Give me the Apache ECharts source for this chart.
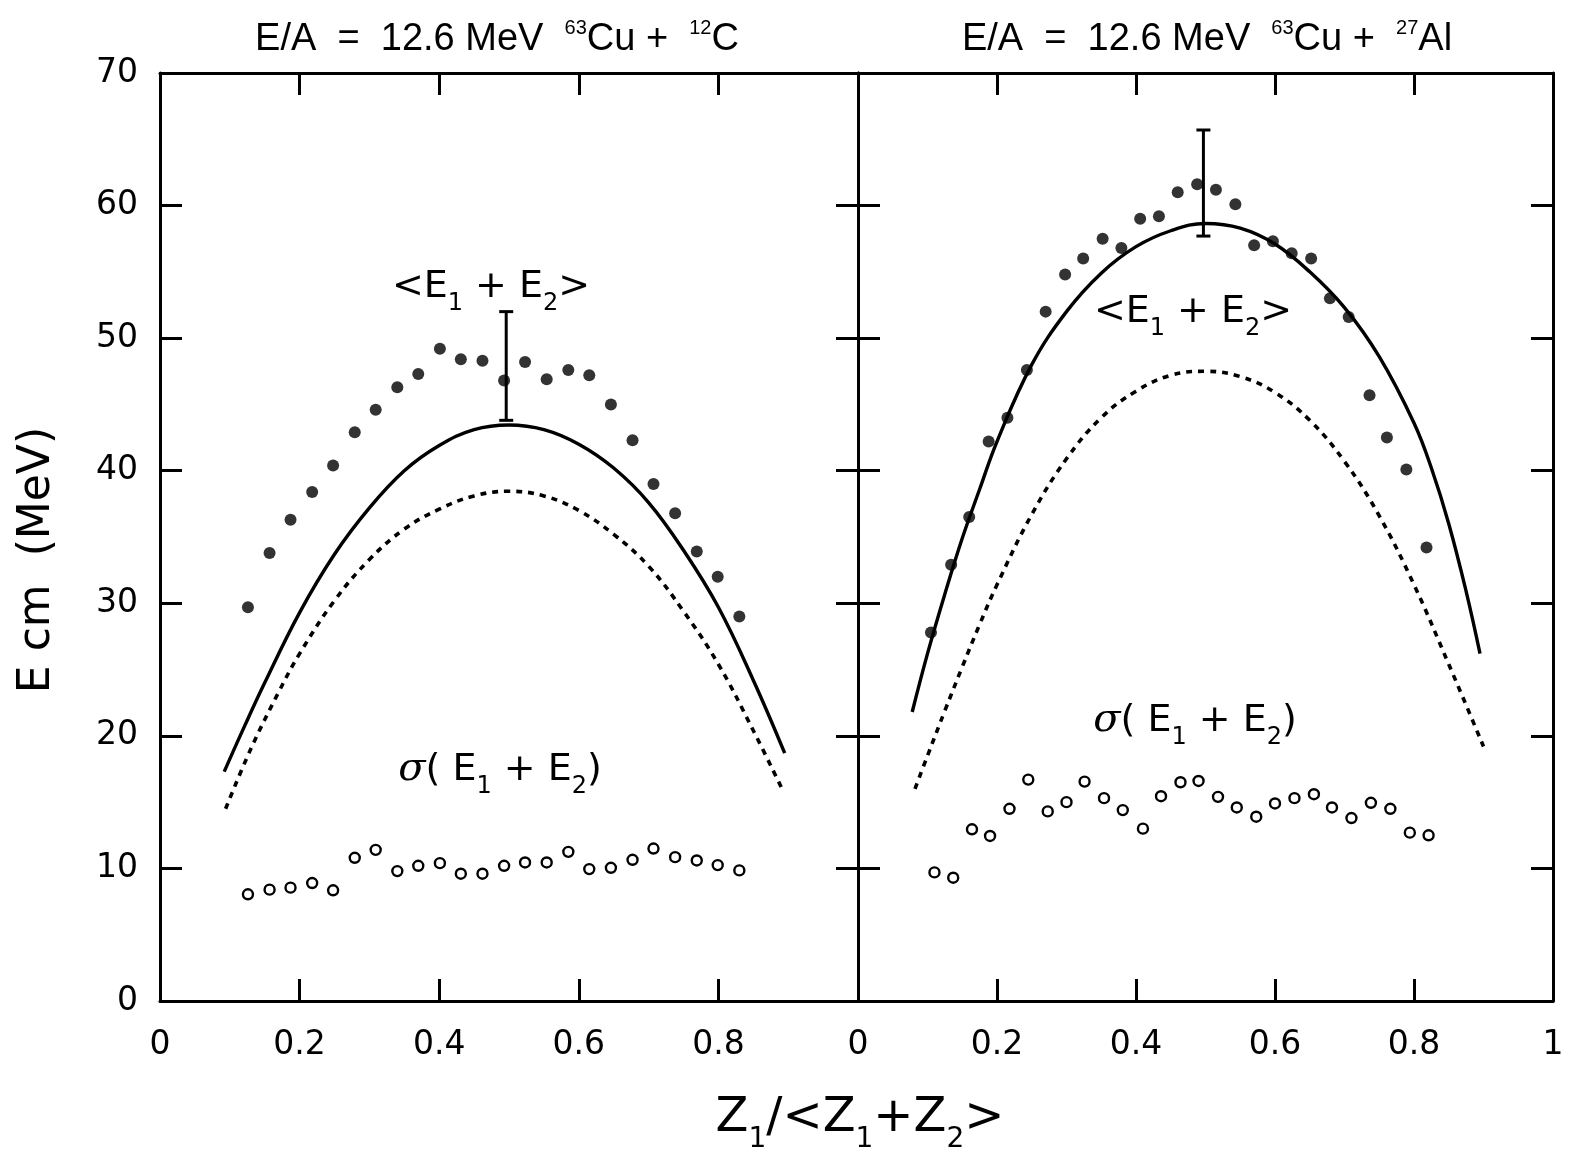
<!DOCTYPE html>
<html><head><meta charset="utf-8">
<style>html,body{margin:0;padding:0;background:#fff}#c{width:1572px;height:1159px}</style>
<script src="https://cdn.jsdelivr.net/npm/echarts@6/dist/echarts.min.js"></script>
</head><body><div id="c"></div>
<script>
// ---------- data ----------
const leftX = [0.126,0.157,0.187,0.218,0.248,0.279,0.309,0.340,0.370,0.401,0.431,0.462,0.493,0.523,0.554,0.585,0.615,0.646,0.677,0.707,0.738,0.769,0.799,0.830];
const leftSum = [29.7,33.8,36.3,38.4,40.4,42.9,44.6,46.3,47.3,49.2,48.4,48.3,46.8,48.2,46.9,47.6,47.2,45.0,42.3,39.0,36.8,33.9,32.0,29.0];
const leftSigma = [8.05,8.4,8.55,8.9,8.35,10.8,11.4,9.8,10.2,10.4,9.6,9.6,10.2,10.45,10.45,11.25,9.95,10.05,10.65,11.5,10.85,10.6,10.25,9.85];
const leftSolid = [[0.092,17.3],[0.12,20.6],[0.15,24.0],[0.2,29.3],[0.25,33.7],[0.3,37.2],[0.35,40.0],[0.4,41.9],[0.45,43.1],[0.5,43.45],[0.55,43.1],[0.6,42.0],[0.65,40.2],[0.7,37.6],[0.75,34.0],[0.8,29.7],[0.85,24.2],[0.895,18.7]];
const leftDotted = [[0.094,14.5],[0.13,19.0],[0.17,23.3],[0.2,26.2],[0.25,30.2],[0.3,33.3],[0.35,35.6],[0.4,37.1],[0.45,38.1],[0.5,38.45],[0.55,38.1],[0.6,37.0],[0.65,35.2],[0.7,32.8],[0.75,29.4],[0.8,25.4],[0.85,20.4],[0.893,15.8]];
const leftErr = [[0.496,43.8,52.0]];

const rightSumX = [0.105,0.134,0.160,0.188,0.215,0.243,0.270,0.298,0.324,0.352,0.379,0.406,0.433,0.460,0.488,0.515,0.543,0.570,0.597,0.624,0.652,0.679,0.706,0.736,0.761,0.789,0.818];
const rightSum = [27.8,32.9,36.5,42.2,44.0,47.6,52.0,54.8,56.0,57.5,56.8,59.0,59.2,61.0,61.6,61.2,60.1,57.0,57.3,56.4,56.0,53.0,51.6,45.7,42.5,40.1,34.2];
const rightSigmaX = [0.110,0.137,0.164,0.190,0.218,0.245,0.273,0.300,0.326,0.354,0.381,0.410,0.436,0.464,0.490,0.518,0.545,0.573,0.600,0.628,0.656,0.682,0.710,0.738,0.766,0.794,0.821];
const rightSigma = [9.7,9.3,12.95,12.45,14.5,16.7,14.3,15.0,16.55,15.3,14.4,13.0,15.45,16.5,16.6,15.4,14.6,13.9,14.9,15.3,15.6,14.6,13.8,14.95,14.5,12.7,12.5];
const rightSolid = [[0.078,21.8],[0.1,26.2],[0.125,30.7],[0.15,34.9],[0.175,38.6],[0.2,42.2],[0.25,48.0],[0.3,52.0],[0.35,54.9],[0.4,56.9],[0.45,58.1],[0.5,58.65],[0.55,58.3],[0.6,57.1],[0.65,55.0],[0.7,52.3],[0.75,48.6],[0.8,43.6],[0.825,40.2],[0.85,36.0],[0.875,30.9],[0.895,26.2]];
const rightDotted = [[0.082,16.0],[0.1,18.5],[0.125,21.9],[0.15,25.2],[0.175,28.4],[0.2,31.4],[0.25,36.7],[0.3,40.9],[0.35,44.0],[0.4,46.0],[0.45,47.2],[0.5,47.5],[0.55,47.1],[0.6,45.9],[0.65,43.8],[0.7,40.7],[0.75,36.6],[0.8,31.4],[0.85,25.4],[0.9,19.2]];
const rightErr = [[0.497,57.7,65.7]];

const xRange = [0, 1], xStep = 0.2;
const yRange = [0, 70], yStep = 10;
const titles = ['E/A = 12.6 MeV ', '63', 'Cu + ', '12', 'C', '27', 'Al'];

// ---------- chart ----------
const zip = (xs, ys) => xs.map((x, i) => [x, ys[i]]);
const BLACK = '#000';
const tickFont = 'DejaVu Sans';

function xAxisCfg(grid, pos, showLabel, showMax) {
  return {
    gridIndex: grid, type: 'value', min: xRange[0], max: xRange[1], interval: xStep, position: pos,
    axisLine: { show: true, onZero: false, lineStyle: { color: BLACK, width: 3 } },
    axisTick: { show: true, inside: true, length: 22, lineStyle: { color: BLACK, width: 3 } },
    axisLabel: { show: showLabel, showMaxLabel: showMax, margin: 28, fontSize: 33, color: BLACK, fontFamily: tickFont,
      formatter: v => String(Math.round(v * 10) / 10) },
    splitLine: { show: false }
  };
}
function yAxisCfg(grid, pos, showLabel) {
  return {
    gridIndex: grid, type: 'value', min: yRange[0], max: yRange[1], interval: yStep, position: pos,
    axisLine: { show: true, onZero: false, lineStyle: { color: BLACK, width: 3 } },
    axisTick: { show: true, inside: true, length: 22, lineStyle: { color: BLACK, width: 3 } },
    axisLabel: { show: showLabel, margin: 22, fontSize: 33, color: BLACK, fontFamily: tickFont },
    splitLine: { show: false }
  };
}
function errRender(params, api) {
  const x = api.value(0), lo = api.value(1), hi = api.value(2);
  const p1 = api.coord([x, lo]), p2 = api.coord([x, hi]);
  const cw = 7, st = { stroke: BLACK, lineWidth: 3 };
  return { type: 'group', children: [
    { type: 'line', shape: { x1: p1[0], y1: p1[1], x2: p2[0], y2: p2[1] }, style: st },
    { type: 'line', shape: { x1: p1[0] - cw, y1: p1[1], x2: p1[0] + cw, y2: p1[1] }, style: st },
    { type: 'line', shape: { x1: p2[0] - cw, y1: p2[1], x2: p2[0] + cw, y2: p2[1] }, style: st }
  ]};
}
function panelSeries(xi, solid, dotted, sum, sigma, err) {
  return [
    { type: 'line', xAxisIndex: xi, yAxisIndex: xi, data: solid, smooth: 0.4, showSymbol: false, silent: true,
      lineStyle: { color: BLACK, width: 3.4 }, z: 2 },
    { type: 'line', xAxisIndex: xi, yAxisIndex: xi, data: dotted, smooth: 0.4, showSymbol: false, silent: true,
      lineStyle: { color: BLACK, width: 3.6, type: [6, 6] }, z: 2 },
    { type: 'scatter', xAxisIndex: xi, yAxisIndex: xi, data: sum, symbol: 'circle', symbolSize: 12,
      itemStyle: { color: BLACK }, z: 3 },
    { type: 'scatter', xAxisIndex: xi, yAxisIndex: xi, data: sigma, symbol: 'circle', symbolSize: 10,
      itemStyle: { color: '#fff', borderColor: BLACK, borderWidth: 2.4, opacity: 1 }, z: 3 },
    { type: 'custom', xAxisIndex: xi, yAxisIndex: xi, data: err, renderItem: errRender,
      encode: { x: 0, y: [1, 2] }, z: 4 }
  ];
}

const titleRich = {
  n: { fontSize: 38, fontFamily: 'Liberation Sans', lineHeight: 44, color: BLACK, fill: BLACK },
  s: { fontSize: 20, fontFamily: 'Liberation Sans', lineHeight: 20, verticalAlign: 'top', color: BLACK, fill: BLACK }
};
const annRich = {
  n: { fontSize: 38, fontFamily: 'DejaVu Sans', lineHeight: 58, color: BLACK, fill: BLACK },
  g: { fontSize: 40, fontFamily: 'DejaVu Serif', fontStyle: 'italic', lineHeight: 58, color: BLACK, fill: BLACK },
  b: { fontSize: 24, fontFamily: 'DejaVu Sans', lineHeight: 24, verticalAlign: 'bottom', color: BLACK, fill: BLACK }
};
const axRich = {
  n: { fontSize: 48, fontFamily: 'DejaVu Sans', lineHeight: 70, color: BLACK, fill: BLACK },
  b: { fontSize: 28, fontFamily: 'DejaVu Sans', lineHeight: 28, verticalAlign: 'bottom', color: BLACK, fill: BLACK }
};
function txt(x, y, text, rich) {
  return { type: 'text', x: x, y: y, z: 10,
    style: { text: text, rich: rich, align: 'center', verticalAlign: 'middle', fill: BLACK } };
}

const option = {
  backgroundColor: '#fff',
  animation: false,
  grid: [
    { left: 160, right: 714, top: 73, bottom: 158 },
    { left: 858, right: 19, top: 73, bottom: 158 }
  ],
  xAxis: [
    xAxisCfg(0, 'bottom', true, false), xAxisCfg(0, 'top', false, false),
    xAxisCfg(1, 'bottom', true, true), xAxisCfg(1, 'top', false, false)
  ],
  yAxis: [
    yAxisCfg(0, 'left', true), yAxisCfg(0, 'right', false),
    yAxisCfg(1, 'left', false), yAxisCfg(1, 'right', false)
  ],
  series: [].concat(
    panelSeries(0, leftSolid, leftDotted, zip(leftX, leftSum), zip(leftX, leftSigma), leftErr),
    panelSeries(2, rightSolid, rightDotted, zip(rightSumX, rightSum), zip(rightSigmaX, rightSigma), rightErr)
  ),
  graphic: [
    txt(497, 40, '{n|E/A  =  12.6 MeV  }{s|' + titles[1] + '}{n|Cu +  }{s|' + titles[3] + '}{n|C}', titleRich),
    txt(1207, 40, '{n|E/A  =  12.6 MeV  }{s|' + titles[1] + '}{n|Cu +  }{s|' + titles[5] + '}{n|Al}', titleRich),
    txt(491, 287, '{n|<E}{b|1}{n| + E}{b|2}{n|>}', annRich),
    txt(1193, 312, '{n|<E}{b|1}{n| + E}{b|2}{n|>}', annRich),
    txt(500, 770, '{g|σ}{n|( E}{b|1}{n| + E}{b|2}{n|)}', annRich),
    txt(1195, 721, '{g|σ}{n|( E}{b|1}{n| + E}{b|2}{n|)}', annRich),
    txt(860, 1119, '{n|Z}{b|1}{n|/<Z}{b|1}{n|+Z}{b|2}{n|>}', axRich),
    { type: 'text', x: 38, y: 560, rotation: Math.PI / 2, z: 10,
      style: { text: 'E cm  (MeV)', font: '44px "DejaVu Sans"', fill: BLACK, align: 'center', verticalAlign: 'middle' } }
  ]
};
const chart = echarts.init(document.getElementById('c'), null, { renderer: 'canvas' });
chart.setOption(option);
</script>
</body></html>
